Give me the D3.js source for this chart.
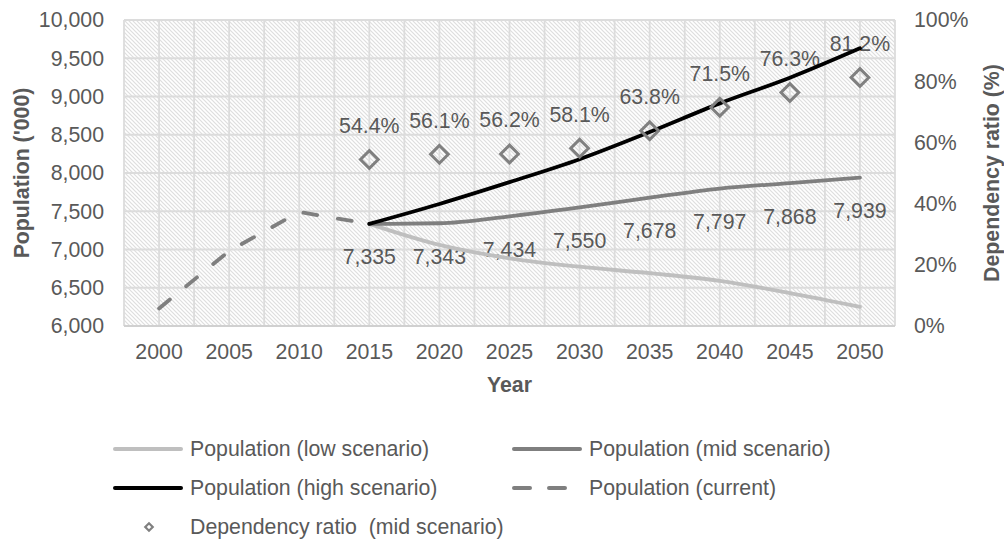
<!DOCTYPE html>
<html>
<head>
<meta charset="utf-8">
<script src="https://cdn.jsdelivr.net/npm/d3@7"></script>
<style>
  html, body { margin: 0; padding: 0; background: #ffffff; }
  svg { display: block; font-family: "Liberation Sans", Arial, sans-serif; }
</style>
</head>
<body>
<svg id="chart" width="1004" height="540"></svg>
<script>
// ---- data ----
const years = ["2000", "2005", "2010", "2015", "2020", "2025", "2030", "2035", "2040", "2045", "2050"];
const currentYears = ["2000", "2005", "2010", "2015"];
const currentPop = [6230, 6980, 7490, 7335];
const projYears = ["2015", "2020", "2025", "2030", "2035", "2040", "2045", "2050"];
const lowPop = [7335, 7060, 6885, 6775, 6690, 6590, 6430, 6250];
const midPop = [7335, 7343, 7434, 7550, 7678, 7797, 7868, 7939];
const highPop = [7335, 7595, 7880, 8180, 8535, 8910, 9245, 9630];
const depRatio = [54.4, 56.1, 56.2, 58.1, 63.8, 71.5, 76.3, 81.2];
const popTicks = [6000, 6500, 7000, 7500, 8000, 8500, 9000, 9500, 10000];
const pctTicks = [0, 20, 40, 60, 80, 100];

// ---- layout ----
const svg = d3.select("#chart");
const plot = { left: 124, right: 895, top: 20, bottom: 326 };
const textColor = "#595959";
const fontSize = "21.3px";

const x = d3.scaleBand().domain(years).range([plot.left, plot.right]).padding(0);
const bw = x.bandwidth();
const cx = d => x(d) + bw / 2;
const yL = d3.scaleLinear().domain([6000, 10000]).range([plot.bottom, plot.top]);
const yR = d3.scaleLinear().domain([0, 100]).range([plot.bottom, plot.top]);

// hatched plot background
const defs = svg.append("defs");
const pat = defs.append("pattern")
  .attr("id", "hatch").attr("patternUnits", "userSpaceOnUse")
  .attr("width", 4).attr("height", 4);
pat.append("rect").attr("width", 4).attr("height", 4).attr("fill", "#ffffff");
pat.append("path")
  .attr("d", "M-1,-1 L5,5 M-1,3 L1,5 M3,-1 L5,1")
  .attr("stroke", "#dedede").attr("stroke-width", 1.2);

svg.append("rect")
  .attr("x", plot.left).attr("y", plot.top)
  .attr("width", plot.right - plot.left).attr("height", plot.bottom - plot.top)
  .attr("fill", "url(#hatch)");

// gridlines: horizontal at each population tick
const grid = svg.append("g").attr("stroke", "#dcdcdc").attr("stroke-width", 1.8);
popTicks.forEach(t => {
  grid.append("line")
    .attr("x1", plot.left).attr("x2", plot.right)
    .attr("y1", yL(t)).attr("y2", yL(t));
});
// vertical gridlines at category edges and centres
const vx = [];
years.forEach(d => { vx.push(x(d)); vx.push(cx(d)); });
vx.push(plot.right);
vx.forEach(v => {
  grid.append("line")
    .attr("x1", v).attr("x2", v)
    .attr("y1", plot.top).attr("y2", plot.bottom);
});
// category axis line
svg.append("line")
  .attr("x1", plot.left).attr("x2", plot.right)
  .attr("y1", plot.bottom).attr("y2", plot.bottom)
  .attr("stroke", "#d0d0d0").attr("stroke-width", 2);

// left axis
const axL = svg.append("g").attr("transform", `translate(${plot.left},0)`)
  .call(d3.axisLeft(yL).tickValues(popTicks).tickFormat(d3.format(",")).tickSize(0).tickPadding(20));
// right axis
const axR = svg.append("g").attr("transform", `translate(${plot.right},0)`)
  .call(d3.axisRight(yR).tickValues(pctTicks).tickFormat(d => d + "%").tickSize(0).tickPadding(19));
// bottom axis
const axB = svg.append("g").attr("transform", `translate(0,${plot.bottom})`)
  .call(d3.axisBottom(x).tickSize(0).tickPadding(18));

[axL, axR, axB].forEach(a => {
  a.select(".domain").remove();
  a.selectAll("text").attr("fill", textColor).style("font-size", fontSize)
    .style("font-family", "'Liberation Sans', Arial, sans-serif");
});

// axis titles
svg.append("text")
  .attr("x", (plot.left + plot.right) / 2).attr("y", 392)
  .attr("text-anchor", "middle").attr("fill", textColor)
  .style("font-size", fontSize).style("font-weight", "bold")
  .text("Year");
svg.append("text")
  .attr("transform", `translate(29,${(plot.top + plot.bottom) / 2}) rotate(-90)`)
  .attr("text-anchor", "middle").attr("fill", textColor)
  .style("font-size", fontSize).style("font-weight", "bold")
  .text("Population ('000)");
svg.append("text")
  .attr("transform", `translate(999,${(plot.top + plot.bottom) / 2}) rotate(-90)`)
  .attr("text-anchor", "middle").attr("fill", textColor)
  .style("font-size", fontSize).style("font-weight", "bold")
  .text("Dependency ratio (%)");

// dependency ratio labels (under the lines)
const labels = svg.append("g").attr("fill", textColor)
  .style("font-size", fontSize).attr("text-anchor", "middle");
projYears.forEach((yr, i) => {
  labels.append("text")
    .attr("x", cx(yr)).attr("y", yR(depRatio[i]) - 34)
    .attr("dy", "0.35em")
    .text(depRatio[i].toFixed(1) + "%");
});

// population lines
const line = (xs, ys, curve) => d3.line()
  .x((d, i) => cx(xs[i]))
  .y(d => yL(d))
  .curve(curve)(ys);

const series = [
  { xs: projYears, ys: lowPop, color: "#bfbfbf", dash: null, curve: d3.curveMonotoneX },
  { xs: projYears, ys: midPop, color: "#7f7f7f", dash: null, curve: d3.curveMonotoneX },
  { xs: currentYears, ys: currentPop, color: "#7f7f7f", dash: "14,21", curve: d3.curveLinear },
  { xs: projYears, ys: highPop, color: "#000000", dash: null, curve: d3.curveMonotoneX }
];
series.forEach(s => {
  svg.append("path")
    .attr("d", line(s.xs, s.ys, s.curve))
    .attr("fill", "none")
    .attr("stroke", s.color)
    .attr("stroke-width", 3.8)
    .attr("stroke-linecap", "round")
    .attr("stroke-linejoin", "round")
    .attr("stroke-dasharray", s.dash);
});

// dependency ratio markers
const diamond = d3.symbol().type(d3.symbolDiamond2).size(200);
projYears.forEach((yr, i) => {
  svg.append("path")
    .attr("d", diamond())
    .attr("transform", `translate(${cx(yr)},${yR(depRatio[i])})`)
    .attr("fill", "none")
    .attr("stroke", "#808080")
    .attr("stroke-width", 3);
});

// mid-scenario population labels
projYears.forEach((yr, i) => {
  labels.append("text")
    .attr("x", cx(yr)).attr("y", yL(midPop[i]) + 33)
    .attr("dy", "0.35em")
    .text(d3.format(",")(midPop[i]));
});

// legend
const legend = svg.append("g").style("font-size", fontSize).attr("fill", textColor);
const legendItems = [
  { label: "Population (low scenario)", color: "#bfbfbf", dash: null, x: 113, y: 449 },
  { label: "Population (mid scenario)", color: "#7f7f7f", dash: null, x: 512, y: 449 },
  { label: "Population (high scenario)", color: "#000000", dash: null, x: 113, y: 488 },
  { label: "Population (current)", color: "#7f7f7f", dash: "16,19", x: 512, y: 488 }
];
legendItems.forEach(it => {
  legend.append("line")
    .attr("x1", it.x + 2).attr("x2", it.dash ? it.x + 55 : it.x + 68)
    .attr("y1", it.y).attr("y2", it.y)
    .attr("stroke", it.color).attr("stroke-width", 4)
    .attr("stroke-linecap", "round")
    .attr("stroke-dasharray", it.dash);
  legend.append("text")
    .attr("x", it.x + 77).attr("y", it.y).attr("dy", "0.35em")
    .text(it.label);
});
legend.append("path")
  .attr("d", d3.symbol().type(d3.symbolDiamond2).size(36)())
  .attr("transform", "translate(149,527)")
  .attr("fill", "none").attr("stroke", "#808080").attr("stroke-width", 2.2);
legend.append("text")
  .attr("x", 190).attr("y", 527).attr("dy", "0.35em")
  .text("Dependency ratio  (mid scenario)")
  .attr("xml:space", "preserve").style("white-space", "pre");
</script>
</body>
</html>
